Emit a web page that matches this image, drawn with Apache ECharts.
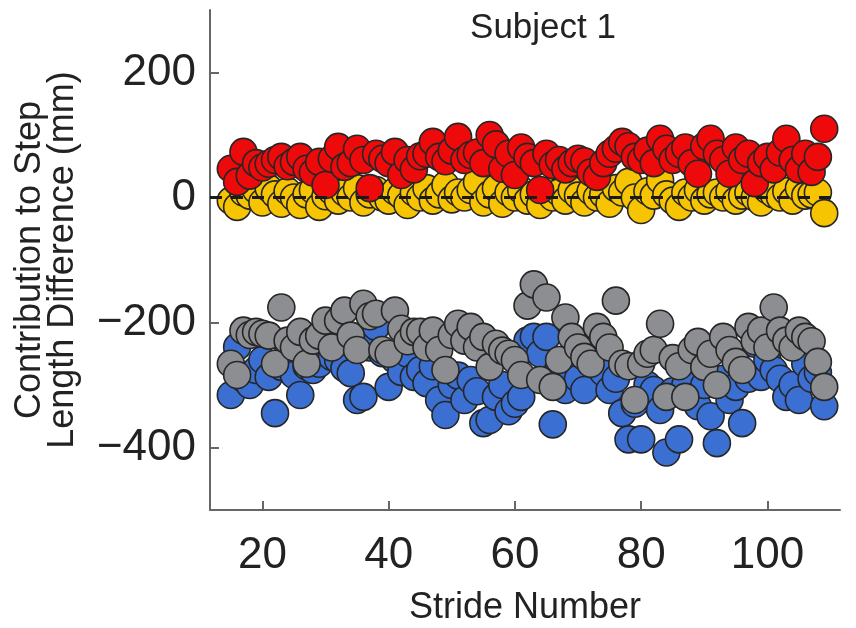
<!DOCTYPE html>
<html>
<head>
<meta charset="utf-8">
<script src="https://cdn.jsdelivr.net/npm/echarts@6/dist/echarts.min.js"></script>
<style>
  html, body { margin: 0; padding: 0; background: #fff; }
  #chart { width: 856px; height: 628px; }
</style>
</head>
<body>
<div id="chart"></div>
<script>
// stride numbers 15..109
var strides = [];
for (var s = 15; s <= 109; s++) strides.push(s);

var redVals = [46, 25, 73, 35, 55, 48, 54, 60, 65, 50, 57, 65, 46, 40, 57, 20, 62, 81, 49, 55,
  78, 60, 15, 70, 62, 55, 73, 36, 60, 45, 66, 70, 89, 65, 58, 75, 97, 60, 68, 72,
  55, 100, 85, 46, 70, 36, 80, 65, 55, 12, 70, 52, 60, 45, 55, 62, 58, 40, 33, 55,
  70, 78, 89, 82, 65, 60, 75, 55, 94, 78, 60, 70, 80, 55, 38, 82, 94, 70, 60, 38,
  80, 60, 70, 23, 55, 65, 45, 72, 94, 60, 45, 70, 41, 65, 110];

var yellowVals = [-5, -15, 8, 3, 12, -8, 15, 5, -10, 10, 0, -12, 5, 12, -15, 2, 10, -5, 8, 0,
  15, -8, 5, 12, 0, -5, 10, 3, -12, 8, 0, 15, -5, 5, 20, -3, 8, 0, 12, 25,
  -8, 5, 15, -10, 8, 0, 12, -5, 5, -12, 10, 0, 8, -5, 12, 3, -8, 10, 0, 5,
  -10, 15, 8, 25, 0, -20, 10, 3, 28, 5, -5, -15, 8, 0, 12, -5, 5, 8, 0, 10,
  -5, 3, 8, 0, -8, 12, 5, 0, 10, -5, 15, 3, 5, 8, -25];

var grayVals = [-266, -284, -213, -220, -215, -218, -221, -266, -176, -229, -240, -215, -266, -229, -221, -197, -240, -197, -181, -221,
  -244, -170, -190, -186, -244, -250, -181, -210, -230, -215, -215, -240, -213, -244, -276, -220, -202, -229, -207, -240,
  -223, -271, -234, -245, -250, -260, -284, -173, -139, -292, -160, -303, -260, -192, -223, -240, -255, -266, -207, -223,
  -240, -165, -266, -270, -324, -266, -250, -244, -202, -319, -257, -270, -319, -244, -231, -271, -250, -300, -223, -244,
  -263, -276, -207, -230, -213, -240, -176, -213, -229, -240, -213, -223, -230, -263, -303];

var blueVals = [-316, -239, -290, -300, -276, -260, -287, -345, -271, -250, -284, -316, -270, -276, -266, -245, -255, -260, -273, -281,
  -324, -319, -240, -207, -249, -303, -260, -279, -250, -287, -276, -297, -270, -324, -348, -300, -285, -324, -292, -310,
  -361, -356, -319, -300, -342, -330, -319, -229, -223, -250, -223, -363, -270, -308, -281, -290, -308, -260, -234, -280,
  -308, -290, -345, -387, -330, -387, -300, -308, -340, -408, -310, -387, -300, -320, -334, -300, -350, -393, -290, -324,
  -303, -361, -290, -234, -287, -260, -276, -290, -319, -300, -324, -266, -290, -280, -334];

var xTicks = [20, 40, 60, 80, 100];
var yTicks = [-400, -200, 0, 200];

function pairs(vals) {
  return strides.map(function (x, i) { return [x, vals[i]]; });
}

function dots(name, vals, color) {
  return {
    name: name,
    type: 'scatter',
    data: pairs(vals),
    symbolSize: 27,
    itemStyle: { color: color, borderColor: '#262626', borderWidth: 1.6, opacity: 1 },
    emphasis: { disabled: true }
  };
}

var font = '"Liberation Sans", Arial, sans-serif';
var chart = echarts.init(document.getElementById('chart'));

var red = dots('red', redVals, '#ee0a0a');
red.markLine = {
  silent: true,
  symbol: 'none',
  label: { show: false },
  lineStyle: { color: '#1a1a1a', type: [12, 9], width: 3 },
  data: [{ yAxis: 0 }]
};

chart.setOption({
  animation: false,
  title: {
    text: 'Subject 1',
    left: 538,
    top: 6,
    textAlign: 'center',
    textStyle: { fontFamily: font, fontSize: 35, fontWeight: 'normal', color: '#222' }
  },
  grid: { left: 210, right: 16, top: 10, bottom: 118, outerBoundsMode: 'none' },
  xAxis: {
    type: 'value',
    min: 11.7,
    max: 111.5,
    name: 'Stride Number',
    nameLocation: 'middle',
    nameGap: 80,
    nameTextStyle: { fontFamily: font, fontSize: 36, color: '#222' },
    axisLine: { show: true, onZero: false, lineStyle: { color: '#666', width: 2 } },
    axisTick: { show: true, inside: true, length: 9, customValues: xTicks, lineStyle: { color: '#666', width: 2 } },
    axisLabel: { customValues: xTicks, fontFamily: font, fontSize: 44, color: '#222', margin: 24 },
    splitLine: { show: false }
  },
  yAxis: {
    type: 'value',
    min: -500,
    max: 300,
    name: 'Contribution to Step\nLength Difference (mm)',
    nameLocation: 'middle',
    nameGap: 130,
    nameTextStyle: { fontFamily: font, fontSize: 36, lineHeight: 33, color: '#222' },
    axisLine: { show: true, lineStyle: { color: '#666', width: 2 } },
    axisTick: { show: true, inside: true, length: 9, customValues: yTicks, lineStyle: { color: '#666', width: 2 } },
    axisLabel: {
      customValues: yTicks, fontFamily: font, fontSize: 44, color: '#222', margin: 14,
      formatter: function (v) { return v < 0 ? '\u2212' + Math.abs(v) : String(v); }
    },
    splitLine: { show: false }
  },
  series: [
    dots('blue', blueVals, '#3b6fd2'),
    dots('gray', grayVals, '#8d8e91'),
    dots('yellow', yellowVals, '#f6c400'),
    red
  ]
});
</script>
</body>
</html>
